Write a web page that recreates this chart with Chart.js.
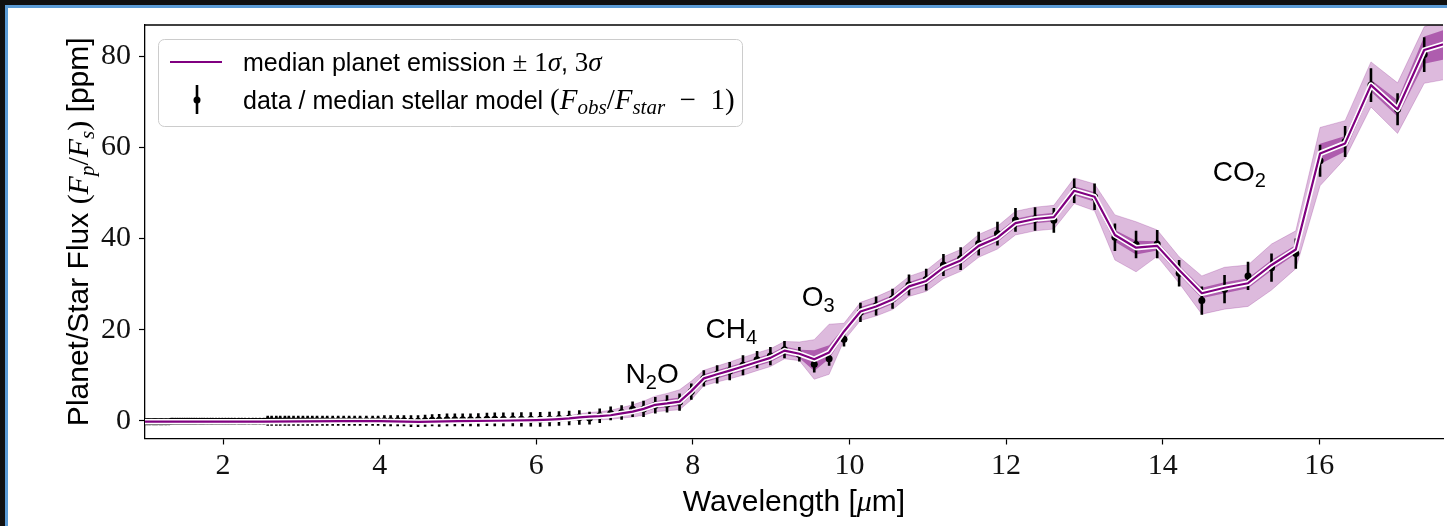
<!DOCTYPE html>
<html>
<head>
<meta charset="utf-8">
<script src="https://cdn.jsdelivr.net/npm/chart.js@4.4.1/dist/chart.umd.min.js"></script>
<style>
    html, body { margin: 0; padding: 0; background: #101010; overflow: hidden; }
    #frame { position: absolute; left: 5px; top: 5px; width: 1442px; height: 521px; background: #fff;
             border-top: 3px solid #5b9bd5; border-left: 3px solid #5b9bd5; }
    #plot { position: absolute; left: 8px; top: 8px; }
</style>
</head>
<body>
<div id="frame"></div>
<canvas id="plot" width="1439" height="518"></canvas>
<script>
// observed spectrum (data / median stellar model), ppm
var wavelength = [
    1.01, 1.03, 1.05, 1.07, 1.10, 1.12, 1.14, 1.16, 1.19, 1.21,
    1.23, 1.26, 1.28, 1.31, 1.34, 1.36, 1.39, 1.42, 1.45, 1.48,
    1.51, 1.54, 1.57, 1.60, 1.63, 1.66, 1.70, 1.73, 1.76, 1.80,
    1.84, 1.87, 1.91, 1.95, 1.99, 2.03, 2.07, 2.11, 2.15, 2.20,
    2.24, 2.28, 2.33, 2.38, 2.42, 2.47, 2.52, 2.57, 2.62, 2.68,
    2.73, 2.79, 2.84, 2.90, 2.96, 3.02, 3.08, 3.14, 3.20, 3.27,
    3.33, 3.40, 3.47, 3.54, 3.61, 3.68, 3.75, 3.83, 3.91, 3.98,
    4.06, 4.14, 4.23, 4.31, 4.40, 4.49, 4.58, 4.67, 4.76, 4.86,
    4.96, 5.06, 5.16, 5.26, 5.37, 5.47, 5.58, 5.70, 5.81, 5.93,
    6.05, 6.17, 6.29, 6.42, 6.55, 6.68, 6.81, 6.95, 7.09, 7.23,
    7.37, 7.52, 7.67, 7.83, 7.98, 8.14, 8.31, 8.47, 8.64, 8.82,
    8.99, 9.17, 9.36, 9.55, 9.74, 9.93, 10.14, 10.34, 10.55, 10.76,
    10.98, 11.20, 11.42, 11.65, 11.89, 12.12, 12.37, 12.61, 12.87, 13.13,
    13.39, 13.66, 13.93, 14.21, 14.50, 14.79, 15.09, 15.39, 15.70, 16.01,
    16.33, 16.66, 17.00, 17.34
];
var flux = [
    -0.2, -0.2, -0.2, -0.2, -0.2, -0.2, -0.2, -0.2, -0.2, -0.2,
    -0.2, -0.2, -0.2, -0.2, -0.1, -0.1, -0.1, -0.1, -0.1, -0.1,
    -0.1, -0.1, -0.1, -0.1, -0.1, -0.1, -0.1, -0.1, -0.1, -0.1,
    -0.1, -0.1, -0.1, -0.1, -0.1, -0.1, -0.1, -0.1, -0.1, -0.1,
    -0.1, -0.1, -0.1, -0.1, -0.1, -0.1, -0.1, 0.0, 0.0, 0.0,
    0.0, 0.0, 0.0, 0.0, 0.0, 0.0, 0.0, 0.0, 0.0, 0.0,
    0.0, 0.0, 0.0, 0.0, 0.0, 0.0, 0.0, 0.0, 0.0, 0.0,
    0.0, 0.0, 0.0, 0.0, -0.1, -0.1, 0.0, 0.1, 0.1, 0.2,
    0.2, 0.2, 0.2, 0.2, 0.3, 0.3, 0.3, 0.3, 0.3, 0.3,
    0.3, 0.4, 0.5, 0.6, 0.7, 0.6, 1.1, 1.6, 1.8, 2.5,
    2.6, 3.4, 3.7, 4.1, 6.4, 9.3, 10.2, 10.9, 12.2, 13.4,
    14.2, 15.6, 14.6, 12.4, 13.6, 17.9, 23.8, 25.2, 26.8, 29.8,
    31.0, 34.2, 35.6, 38.9, 41.1, 44.1, 44.3, 44.0, 50.5, 49.2,
    40.3, 38.7, 38.8, 32.4, 26.4, 28.9, 31.8, 33.6, 36.7, 57.1,
    61.3, 73.7, 68.4, 80.4
];
var fluxErr = [
    0.4, 0.4, 0.4, 0.4, 0.4, 0.4, 0.4, 0.4, 0.4, 0.4,
    0.4, 0.4, 0.4, 0.4, 0.65, 0.65, 0.65, 0.65, 0.65, 0.65,
    0.65, 0.65, 0.65, 0.65, 0.65, 0.65, 0.65, 0.65, 0.65, 0.65,
    0.65, 0.65, 0.65, 0.65, 0.65, 0.65, 0.65, 0.65, 0.65, 0.65,
    0.65, 0.65, 0.65, 0.65, 0.65, 0.65, 0.65, 1.1, 1.1, 1.1,
    1.1, 1.1, 1.1, 1.1, 1.1, 1.1, 1.1, 1.1, 1.1, 1.1,
    1.1, 1.1, 1.1, 1.1, 1.1, 1.1, 1.1, 1.1, 1.1, 1.1,
    1.2, 1.2, 1.2, 1.2, 1.3, 1.3, 1.3, 1.3, 1.4, 1.4,
    1.4, 1.4, 1.4, 1.45, 1.45, 1.5, 1.5, 1.5, 1.55, 1.55,
    1.6, 1.6, 1.6, 1.6, 1.6, 1.4, 1.6, 1.5, 1.6, 1.7,
    1.8, 1.8, 1.9, 1.9, 1.8, 1.8, 2.0, 2.0, 2.2, 1.9,
    2.0, 1.9, 1.6, 1.8, 1.5, 1.6, 2.1, 2.1, 2.2, 2.3,
    2.4, 2.4, 2.5, 2.6, 2.6, 2.6, 2.6, 2.7, 2.7, 2.9,
    3.0, 3.0, 3.1, 2.9, 3.1, 3.1, 3.1, 3.1, 3.3, 3.5,
    3.4, 3.7, 3.5, 3.8
];

// retrieved planet emission: median and 1 sigma / 3 sigma spreads
var modelWave = [
    1.0, 1.5, 2.0, 2.5, 3.0, 3.5, 4.0, 4.5, 5.0, 5.5, 6.0, 6.17,
    6.29, 6.42, 6.55, 6.68, 6.81, 6.95, 7.09, 7.23, 7.37, 7.52,
    7.67, 7.83, 7.98, 8.14, 8.31, 8.47, 8.64, 8.82, 8.99, 9.17,
    9.36, 9.55, 9.74, 9.93, 10.14, 10.34, 10.55, 10.76, 10.98, 11.20,
    11.42, 11.65, 11.89, 12.12, 12.37, 12.61, 12.87, 13.13, 13.39, 13.66,
    13.93, 14.21, 14.50, 14.79, 15.09, 15.39, 15.70, 16.01, 16.33, 16.66,
    17.00, 17.34, 17.69
];
var modelMedian = [
    -0.2, -0.2, -0.2, -0.2, -0.15, -0.1, -0.1, -0.25, -0.1, 0.0, 0.15, 0.25,
    0.35, 0.5, 0.75, 0.9, 1.0, 1.2, 1.6, 2.0, 2.6, 3.5,
    3.8, 4.2, 6.5, 9.3, 10.2, 11.0, 11.9, 12.9, 13.8, 15.4,
    14.7, 13.5, 15.0, 19.6, 24.0, 25.1, 26.6, 29.5, 30.7, 33.6,
    35.2, 38.4, 40.2, 43.4, 44.3, 44.7, 50.5, 49.2, 40.8, 38.0,
    38.4, 33.1, 28.0, 29.2, 30.2, 34.2, 37.6, 58.7, 60.9, 73.7,
    68.4, 81.4, 83.2
];
var sigma1Up = [
    0.1, 0.1, 0.1, 0.1, 0.1, 0.1, 0.1, 0.1, 0.1, 0.1, 0.1, 0.1,
    0.2, 0.25, 0.3, 0.35, 0.4, 0.45, 0.5, 0.6, 0.7, 0.8,
    0.9, 0.9, 0.9, 0.9, 0.9, 0.9, 0.9, 0.9, 0.9, 0.9,
    0.9, 2.0, 1.6, 0.9, 0.95, 0.95, 0.95, 0.95, 0.95, 0.95,
    0.95, 0.95, 0.95, 0.95, 0.95, 0.95, 1.0, 1.0, 1.1, 1.5,
    1.0, 1.0, 1.2, 1.2, 1.1, 1.1, 1.0, 2.1, 1.6, 1.2,
    2.0, 3.0, 3.2
];
var sigma1Down = [
    0.1, 0.1, 0.1, 0.1, 0.1, 0.1, 0.1, 0.1, 0.1, 0.1, 0.1, 0.1,
    0.2, 0.25, 0.3, 0.35, 0.4, 0.45, 0.5, 0.6, 0.7, 0.8,
    0.9, 0.9, 0.9, 0.9, 0.9, 0.9, 0.9, 0.9, 0.9, 0.9,
    0.9, 2.6, 1.4, 0.9, 0.95, 0.95, 0.95, 0.95, 0.95, 0.95,
    0.95, 0.95, 0.95, 0.95, 0.95, 0.95, 1.0, 1.1, 1.5, 1.5,
    1.0, 1.0, 1.1, 1.2, 1.1, 1.2, 1.0, 2.3, 1.8, 1.4,
    1.6, 3.0, 3.5
];
var sigma3Up = [
    0.3, 0.3, 0.3, 0.3, 0.3, 0.3, 0.3, 0.35, 0.35, 0.4, 0.45, 0.5,
    0.55, 0.6, 0.8, 0.9, 1.0, 1.1, 1.3, 1.5, 1.7, 1.9,
    2.2, 2.6, 2.2, 1.8, 1.8, 1.9, 2.0, 2.0, 2.0, 2.0,
    2.6, 4.3, 6.2, 1.8, 2.0, 2.1, 2.2, 2.2, 2.3, 2.4,
    2.4, 2.5, 2.5, 2.6, 2.6, 2.6, 2.8, 2.8, 4.4, 5.7,
    3.5, 2.9, 3.8, 4.5, 4.0, 4.6, 4.1, 5.7, 5.0, 5.1,
    5.8, 5.1, 5.5
];
var sigma3Down = [
    0.3, 0.3, 0.3, 0.3, 0.3, 0.3, 0.3, 0.35, 0.35, 0.4, 0.45, 0.5,
    0.5, 0.5, 0.6, 0.7, 0.8, 0.9, 1.0, 1.2, 1.4, 1.5,
    1.6, 1.8, 1.9, 1.6, 1.7, 1.8, 1.9, 1.9, 1.9, 1.8,
    1.5, 4.4, 4.8, 2.0, 2.0, 2.1, 2.2, 2.2, 2.3, 2.4,
    2.4, 2.5, 2.5, 2.6, 2.6, 2.6, 2.8, 3.1, 5.5, 5.3,
    2.3, 2.9, 4.6, 4.7, 5.1, 5.5, 4.2, 7.1, 3.3, 4.8,
    5.3, 7.3, 8.0
];

var xTicks = [2, 4, 6, 8, 10, 12, 14, 16];
var yTicks = [0, 20, 40, 60, 80];

// molecule labels, placed in data coordinates
var molecules = ['N2O', 'CH4', 'O3', 'CO2'];
var moleculeWave = [7.48, 8.49, 9.60, 14.98];
var moleculeFlux = [10.5, 20.4, 27.4, 54.8];

var PURPLE = 'rgb(128,0,128)';
var SANS = '"Liberation Sans", Arial, sans-serif';
var SERIF = '"Liberation Serif", "Times New Roman", serif';

function sans(size) { return size + 'px ' + SANS; }
function serif(size) { return size + 'px ' + SERIF; }
function ital(size) { return 'italic ' + size + 'px ' + SERIF; }

function xy(xs, ys) {
    return xs.map(function (x, i) { return {x: x, y: ys[i]}; });
}

function shifted(ys, d, sign) {
    return ys.map(function (y, i) { return y + sign * d[i]; });
}

// text made of pieces in different fonts (for sub-scripts and math)
function drawRich(ctx, segs, x, y, align) {
    var w = 0;
    segs.forEach(function (s) { ctx.font = s.f; w += ctx.measureText(s.t).width; });
    var cx = align === 'center' ? x - w / 2 : x;
    ctx.textAlign = 'left';
    ctx.textBaseline = 'alphabetic';
    segs.forEach(function (s) {
        ctx.font = s.f;
        ctx.fillText(s.t, cx, y + (s.dy || 0));
        cx += ctx.measureText(s.t).width;
    });
}

var errorBars = {
    id: 'errorBars',
    beforeDatasetDraw: function (chart, args) {
        if (args.index !== 4) return;
        var ctx = chart.ctx, xs = chart.scales.x, ys = chart.scales.y, a = chart.chartArea;
        ctx.save();
        ctx.beginPath();
        ctx.rect(a.left, a.top, a.right - a.left, a.bottom - a.top);
        ctx.clip();
        ctx.strokeStyle = '#000';
        ctx.lineWidth = 2.6;
        ctx.beginPath();
        wavelength.forEach(function (w, i) {
            var px = xs.getPixelForValue(w);
            ctx.moveTo(px, ys.getPixelForValue(flux[i] - fluxErr[i]));
            ctx.lineTo(px, ys.getPixelForValue(flux[i] + fluxErr[i]));
        });
        ctx.stroke();
        ctx.restore();
    }
};

var decorations = {
    id: 'decorations',
    afterDatasetsDraw: function (chart) {
        var ctx = chart.ctx, a = chart.chartArea, xs = chart.scales.x, ys = chart.scales.y;
        ctx.save();

        // top spine
        ctx.strokeStyle = '#000';
        ctx.lineWidth = 1.3;
        ctx.beginPath();
        ctx.moveTo(a.left, a.top);
        ctx.lineTo(a.right, a.top);
        ctx.stroke();

        // molecule names
        ctx.fillStyle = '#000';
        molecules.forEach(function (m, i) {
            var parts = m.match(/^([A-Z]+)(\d)([A-Z]*)$/);
            var segs = [{t: parts[1], f: sans(28)}, {t: parts[2], f: sans(20), dy: 6}];
            if (parts[3]) segs.push({t: parts[3], f: sans(28)});
            drawRich(ctx, segs, xs.getPixelForValue(moleculeWave[i]), ys.getPixelForValue(moleculeFlux[i]) + 10, 'center');
        });

        // legend
        var lx = a.left + 13, ly = a.top + 14;
        ctx.fillStyle = 'rgba(255,255,255,0.8)';
        ctx.strokeStyle = '#cccccc';
        ctx.lineWidth = 1;
        ctx.beginPath();
        ctx.roundRect(lx + 0.5, ly + 0.5, 584, 87, 6);
        ctx.fill();
        ctx.stroke();

        ctx.strokeStyle = PURPLE;
        ctx.lineWidth = 2;
        ctx.beginPath();
        ctx.moveTo(lx + 12, ly + 23);
        ctx.lineTo(lx + 64, ly + 23);
        ctx.stroke();

        ctx.strokeStyle = '#000';
        ctx.lineWidth = 2.6;
        ctx.beginPath();
        ctx.moveTo(lx + 39, ly + 46);
        ctx.lineTo(lx + 39, ly + 75);
        ctx.stroke();
        ctx.fillStyle = '#000';
        ctx.beginPath();
        ctx.arc(lx + 39, ly + 61, 3.5, 0, Math.PI * 2);
        ctx.fill();

        drawRich(ctx, [
            {t: 'median planet emission ', f: sans(25)},
            {t: '\u00b1 1', f: serif(27)}, {t: '\u03c3', f: ital(27)},
            {t: ', ', f: sans(25)},
            {t: '3', f: serif(27)}, {t: '\u03c3', f: ital(27)}
        ], lx + 85, ly + 32);
        drawRich(ctx, [
            {t: 'data / median stellar model ', f: sans(25)},
            {t: '(', f: serif(29)}, {t: 'F', f: ital(29)}, {t: 'obs', f: ital(21), dy: 5},
            {t: '/', f: serif(29)}, {t: 'F', f: ital(29)}, {t: 'star', f: ital(21), dy: 5},
            {t: '\u2002\u2212\u20021)', f: serif(29)}
        ], lx + 85, ly + 70);

        // axis titles
        drawRich(ctx, [
            {t: 'Wavelength [', f: sans(30)}, {t: '\u03bc', f: ital(30)}, {t: 'm]', f: sans(30)}
        ], (a.left + a.right) / 2, 503, 'center');

        ctx.translate(79.5, (a.top + a.bottom) / 2);
        ctx.rotate(-Math.PI / 2);
        drawRich(ctx, [
            {t: 'Planet/Star Flux ', f: sans(30)},
            {t: '(', f: serif(30)}, {t: 'F', f: ital(30)}, {t: 'p', f: ital(21), dy: 6},
            {t: '/', f: serif(30)}, {t: 'F', f: ital(30)}, {t: 's', f: ital(21), dy: 6},
            {t: ')', f: serif(30)},
            {t: ' [ppm]', f: sans(30)}
        ], 0, 0, 'center');

        ctx.restore();
    }
};

var band3Fill = 'rgba(128,0,128,0.27)';
var band3Edge = 'rgba(128,0,128,0.22)';
var band1Fill = 'rgba(128,0,128,0.5)';

var tickStyle = {
    drawOnChartArea: false,
    drawTicks: true,
    tickLength: 6,
    tickWidth: 1.2,
    tickColor: '#000'
};

new Chart(document.getElementById('plot'), {
    type: 'line',
    data: {
        datasets: [
            {data: xy(modelWave, shifted(modelMedian, sigma3Up, 1)), fill: '+1', backgroundColor: band3Fill,
             borderColor: band3Edge, borderWidth: 1, pointRadius: 0, order: 5, clip: 0},
            {data: xy(modelWave, shifted(modelMedian, sigma3Down, -1)), fill: false,
             borderColor: band3Edge, borderWidth: 1, pointRadius: 0, order: 5, clip: 0},
            {data: xy(modelWave, shifted(modelMedian, sigma1Up, 1)), fill: '+1', backgroundColor: band1Fill,
             borderWidth: 0, pointRadius: 0, order: 4, clip: 0},
            {data: xy(modelWave, shifted(modelMedian, sigma1Down, -1)), fill: false,
             borderWidth: 0, pointRadius: 0, order: 4, clip: 0},
            {data: xy(wavelength, flux), showLine: false, pointRadius: 3.5, pointBackgroundColor: '#000',
             pointBorderWidth: 0, order: 3, clip: 0},
            {data: xy(modelWave, modelMedian), borderColor: '#fff', borderWidth: 5.5, pointRadius: 0,
             borderJoinStyle: 'round', borderCapStyle: 'round', order: 2, clip: 0},
            {data: xy(modelWave, modelMedian), borderColor: PURPLE, borderWidth: 2.2, pointRadius: 0,
             borderJoinStyle: 'round', order: 1, clip: 0}
        ]
    },
    options: {
        responsive: false,
        devicePixelRatio: 1,
        animation: false,
        layout: {padding: {top: 17, left: 0, right: 0, bottom: 0}},
        plugins: {legend: {display: false}, tooltip: {enabled: false}},
        elements: {line: {tension: 0}},
        scales: {
            x: {
                type: 'linear',
                bounds: 'data',
                min: 1.003,
                max: 17.58,
                afterBuildTicks: function (s) { s.ticks = xTicks.map(function (v) { return {value: v}; }); },
                afterFit: function (s) { s.height = 87.5; s.paddingLeft = 0; s.paddingRight = 0; },
                ticks: {font: {family: SERIF, size: 30}, color: '#111', padding: 4, maxRotation: 0, autoSkip: false},
                grid: tickStyle,
                border: {display: true, color: '#000', width: 1.3}
            },
            y: {
                type: 'linear',
                bounds: 'data',
                min: -3.9,
                max: 86.9,
                afterBuildTicks: function (s) { s.ticks = yTicks.map(function (v) { return {value: v}; }); },
                afterFit: function (s) { s.width = 137; s.paddingTop = 0; s.paddingBottom = 0; },
                ticks: {font: {family: SERIF, size: 30}, color: '#111', padding: 8},
                grid: tickStyle,
                border: {display: true, color: '#000', width: 1.3}
            }
        }
    },
    plugins: [errorBars, decorations]
});
</script>
</body>
</html>
